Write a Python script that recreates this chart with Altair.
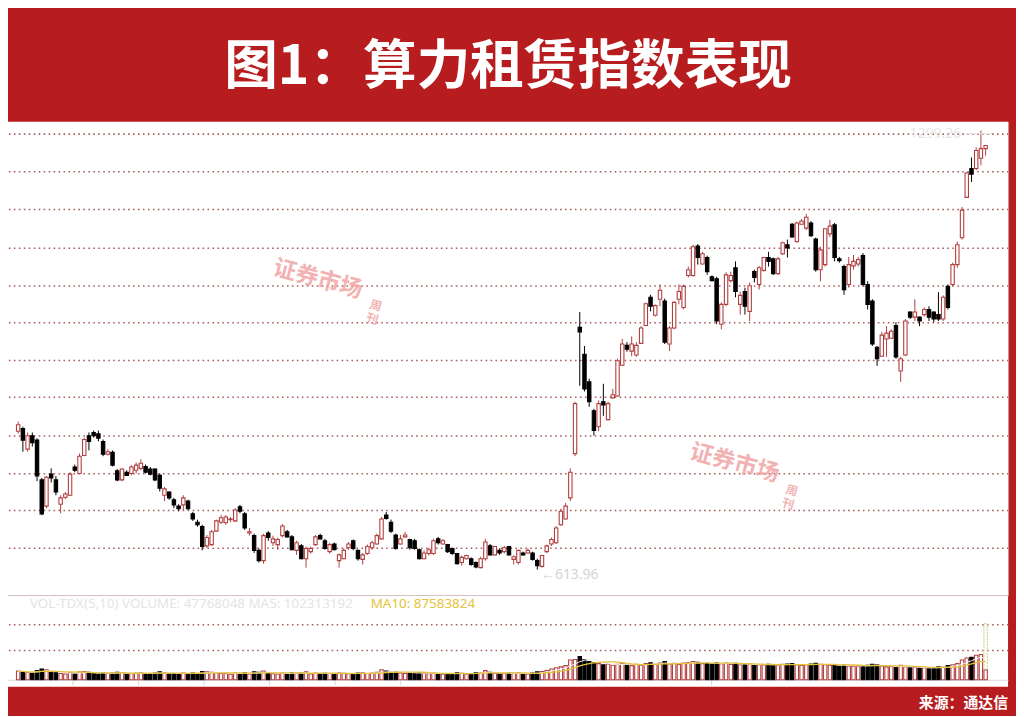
import altair as alt
import pandas as pd

# ---------------- data ----------------
opens = [
    830, 834, 802, 823, 816, 754, 713, 763, 754, 716,
    727, 730, 774, 764, 792, 823, 828, 826, 814, 794,
    797, 768, 754, 766, 764, 769, 772, 775, 771, 771,
    761, 730, 735, 723, 713, 715, 721, 701, 688, 681,
    651, 653, 674, 688, 687, 692, 690, 712, 701, 671,
    667, 644, 628, 671, 656, 653, 667, 673, 665, 644,
    651, 631, 642, 653, 667, 659, 642, 654, 628, 631,
    648, 659, 644, 630, 639, 648, 654, 662, 699, 688,
    668, 654, 665, 661, 659, 645, 631, 639, 639, 662,
    654, 653, 647, 639, 625, 631, 631, 625, 617, 631,
    651, 637, 644, 642, 650, 630, 625, 640, 640, 640,
    628, 619, 642, 654, 656, 684, 693, 726, 795, 992,
    950, 907, 862, 837, 876, 848, 882, 885, 933, 964,
    955, 949, 967, 995, 1039, 1011, 1036, 1033, 966, 991,
    1036, 1023, 1073, 1073, 1119, 1091, 1101, 1071, 1068, 997,
    1028, 1065, 1085, 1028, 1048, 1017, 1079, 1059, 1081, 1101,
    1099, 1076, 1107, 1121, 1153, 1126, 1153, 1147, 1155, 1130,
    1082, 1090, 1138, 1152, 1099, 1087, 1059, 1088, 1091, 1104,
    1059, 1033, 961, 947, 974, 975, 995, 924, 949, 1016,
    1008, 1008, 1012, 1020, 1016, 1012, 1005, 1056, 1059, 1090,
    1132, 1195, 1240, 1240, 1256, 1271,
]
highs = [
    845, 837, 828, 828, 819, 757, 760, 772, 760, 730,
    735, 766, 778, 795, 820, 828, 831, 831, 817, 802,
    800, 771, 772, 769, 777, 781, 786, 778, 774, 772,
    764, 743, 736, 726, 716, 730, 723, 704, 692, 684,
    668, 676, 692, 699, 699, 696, 710, 715, 704, 679,
    670, 647, 670, 674, 667, 664, 685, 676, 668, 659,
    654, 650, 650, 668, 670, 662, 656, 656, 639, 647,
    657, 661, 645, 640, 653, 659, 670, 696, 704, 692,
    670, 668, 673, 662, 662, 647, 644, 648, 662, 665,
    662, 654, 648, 640, 636, 637, 633, 627, 634, 662,
    654, 651, 647, 651, 651, 636, 645, 642, 647, 642,
    631, 637, 653, 664, 682, 709, 718, 772, 876, 1016,
    963, 912, 865, 878, 904, 876, 896, 943, 974, 969,
    978, 969, 994, 1031, 1043, 1028, 1059, 1037, 994, 1033,
    1059, 1059, 1087, 1121, 1122, 1110, 1104, 1073, 1071, 1031,
    1078, 1079, 1095, 1048, 1054, 1062, 1082, 1088, 1102, 1110,
    1101, 1102, 1126, 1129, 1155, 1157, 1161, 1169, 1158, 1132,
    1118, 1147, 1160, 1155, 1102, 1090, 1102, 1105, 1102, 1108,
    1064, 1036, 963, 985, 994, 989, 1000, 946, 1005, 1017,
    1036, 1009, 1023, 1025, 1017, 1047, 1042, 1059, 1093, 1126,
    1180, 1234, 1257, 1273, 1299.26, 1276,
]
lows = [
    826, 798, 798, 806, 752, 699, 710, 750, 730, 702,
    724, 729, 766, 763, 791, 800, 820, 814, 791, 792,
    775, 752, 752, 760, 761, 764, 769, 764, 761, 752,
    736, 721, 723, 710, 705, 707, 707, 690, 681, 644,
    648, 651, 673, 685, 684, 688, 688, 702, 676, 667,
    640, 625, 623, 659, 651, 645, 664, 664, 644, 637,
    630, 617, 639, 651, 661, 645, 639, 644, 617, 630,
    645, 644, 628, 622, 637, 645, 653, 661, 692, 671,
    645, 653, 664, 645, 645, 630, 630, 636, 637, 653,
    653, 640, 637, 622, 620, 630, 620, 616, 616, 628,
    636, 636, 637, 639, 636, 622, 622, 636, 639, 628,
    613.96, 617, 640, 651, 654, 682, 692, 721, 791, 901,
    892, 868, 823, 830, 854, 847, 881, 884, 932, 954,
    947, 946, 966, 994, 1017, 1009, 1025, 966, 955, 989,
    1028, 1020, 1070, 1071, 1090, 1090, 1074, 1064, 997, 989,
    1025, 1062, 1039, 1012, 1012, 1002, 1062, 1051, 1079, 1087,
    1074, 1074, 1105, 1101, 1132, 1124, 1152, 1144, 1133, 1079,
    1064, 1087, 1133, 1095, 1093, 1043, 1054, 1082, 1087, 1056,
    1020, 963, 932, 946, 946, 974, 943, 907, 947, 1005,
    1002, 994, 1009, 1002, 1000, 1002, 1002, 1020, 1056, 1085,
    1129, 1194, 1219, 1237, 1245, 1260,
]
closes = [
    840, 816, 823, 812, 760, 701, 758, 757, 735, 726,
    732, 763, 769, 791, 817, 814, 823, 819, 794, 798,
    777, 754, 771, 761, 774, 777, 780, 766, 763, 754,
    741, 740, 726, 715, 709, 726, 709, 693, 684, 650,
    664, 673, 690, 695, 696, 693, 707, 705, 679, 673,
    644, 628, 667, 664, 662, 661, 682, 665, 645, 656,
    631, 647, 647, 665, 662, 647, 653, 645, 637, 644,
    654, 647, 631, 637, 650, 656, 667, 693, 694, 674,
    647, 662, 668, 648, 647, 631, 640, 645, 659, 656,
    659, 642, 639, 623, 633, 636, 622, 618, 631, 657,
    637, 650, 640, 648, 637, 634, 644, 637, 644, 630,
    620, 636, 651, 661, 679, 705, 713, 766, 873, 985,
    896, 876, 831, 873, 871, 873, 887, 940, 966, 958,
    966, 964, 991, 1029, 1025, 1026, 1050, 969, 991, 1031,
    1048, 1056, 1082, 1118, 1101, 1107, 1079, 1065, 1002, 1028,
    1074, 1073, 1048, 1042, 1025, 1057, 1070, 1085, 1101, 1095,
    1076, 1099, 1124, 1116, 1133, 1155, 1158, 1164, 1135, 1082,
    1113, 1146, 1150, 1101, 1096, 1051, 1090, 1095, 1098, 1059,
    1028, 966, 943, 980, 983, 986, 946, 943, 1002, 1008,
    1016, 1002, 1020, 1008, 1005, 1005, 1039, 1023, 1090, 1121,
    1175, 1233, 1231, 1268, 1271, 1276,
]
# volume, millions of shares
volumes = [
    42, 38, 35, 33, 45, 52, 48, 36, 34, 30,
    28, 35, 30, 38, 40, 36, 30, 28, 34, 30,
    32, 36, 35, 28, 30, 32, 34, 30, 28, 33,
    38, 34, 30, 29, 28, 33, 30, 32, 28, 40,
    38, 36, 34, 30, 31, 27, 33, 30, 35, 28,
    38, 36, 42, 30, 29, 28, 33, 30, 34, 31,
    33, 38, 28, 32, 29, 31, 30, 28, 33, 31,
    29, 30, 32, 34, 30, 33, 36, 48, 42, 38,
    40, 33, 30, 34, 32, 35, 30, 29, 33, 28,
    27, 30, 29, 34, 31, 28, 30, 35, 32, 44,
    36, 32, 28, 30, 33, 31, 34, 27, 28, 32,
    38, 40, 45, 52, 58, 62, 68, 95, 98, 112,
    96, 88, 82, 78, 72, 76, 70, 74, 80, 72,
    68, 74, 70, 78, 82, 75, 80, 88, 76, 79,
    74, 80, 82, 88, 84, 78, 80, 76, 82, 78,
    80, 74, 79, 72, 76, 74, 70, 73, 71, 75,
    72, 70, 74, 76, 78, 72, 69, 73, 76, 79,
    74, 72, 70, 72, 66, 71, 67, 65, 64, 68,
    70, 74, 72, 66, 62, 64, 60, 70, 63, 58,
    60, 56, 58, 55, 57, 62, 60, 68, 72, 78,
    95, 105, 108, 118, 122, 47.768048,
]
est_last_volume = 270  # dotted estimate bar on the last day

grid_prices = [1294, 1235, 1176, 1117, 1058, 1000, 941, 883, 824, 765, 707, 648]
vol_grid = [143, 268]
vol_ticks = [12.46, 26.35, 40.25, 54.1, 68.0, 81.9, 147.8]

title_text = "图1：算力租赁指数表现"
source_text = "来源：通达信"
vol_header = "VOL-TDX(5,10)  VOLUME: 47768048  MA5: 102313192"
ma10_header = "MA10: 87583824"

n = len(closes)
idx = list(range(1, n + 1))
dirs = ["up" if c >= o else "down" for o, c in zip(opens, closes)]
df = pd.DataFrame({"i": idx, "open": opens, "high": highs, "low": lows,
                   "close": closes, "vol": volumes, "dir": dirs})

# ---------------- styling ----------------
RED_BG = "#B71C1F"
UP = "#B23F3F"
DOWN = "#000000"
GRID = "#A95F5D"
CJK = "Noto Sans CJK SC"

xs = alt.Scale(domain=[-0.1, 209.7], nice=False, zero=False)
ps = alt.Scale(domain=[573.75, 1313.1], nice=False, zero=False)
vs = alt.Scale(domain=[-33.5, 406.3], nice=False, zero=False)

ax_x_price = alt.Axis(orient="bottom", labels=False, ticks=False, grid=False,
                      domainColor="#A88484", domainWidth=2, title=None)
ax_y_price = alt.Axis(orient="right", values=grid_prices, labels=False, ticks=False,
                      grid=True, gridDash=[1.6, 3.4], gridColor=GRID, gridWidth=1.6,
                      domainColor="#D39A9A", domainWidth=1, title=None)
ax_x_vol = alt.Axis(orient="bottom", offset=-7, labels=False, ticks=True, tickSize=5,
                    tickColor="#D6D6D6", domainColor="#DADADA", grid=False,
                    values=vol_ticks, title=None)
ax_y_vol = alt.Axis(orient="right", values=vol_grid, labels=False, ticks=False,
                    grid=True, gridDash=[1.6, 3.4], gridColor=GRID, gridWidth=1.6,
                    domain=False, title=None)


def PX(f):
    return alt.X(f, type="quantitative", scale=xs, axis=ax_x_price)


def PY(f):
    return alt.Y(f, type="quantitative", scale=ps, axis=ax_y_price)


def VX(f):
    return alt.X(f, type="quantitative", scale=xs, axis=ax_x_vol)


def VY(f):
    return alt.Y(f, type="quantitative", scale=vs, axis=ax_y_vol)


fill_dir = alt.Fill("dir:N", scale=alt.Scale(domain=["up", "down"], range=["#FFFFFF", DOWN]), legend=None)
stroke_dir = alt.Stroke("dir:N", scale=alt.Scale(domain=["up", "down"], range=[UP, DOWN]), legend=None)

# ---------------- price panel ----------------
wicks = alt.Chart(df).mark_rule(strokeWidth=1).encode(
    x=PX("i"), y=PY("low"), y2="high", stroke=stroke_dir)
bodies = alt.Chart(df).mark_bar(size=3.4, strokeWidth=1.1).encode(
    x=PX("i"), y=PY("open"), y2="close", fill=fill_dir, stroke=stroke_dir)

wm = pd.DataFrame({"i": [64.5, 152.8], "p": [1067, 780], "t": ["证券市场", "证券市场"]})
wm2 = pd.DataFrame({"i": [76.8, 164.9], "p": [1026, 737], "t": ["周\n刊", "周\n刊"]})
watermark = alt.Chart(wm).mark_text(angle=15, fontSize=23, font=CJK, fontWeight="bold",
                                     color="#F0A0A0", opacity=0.8).encode(
    x=PX("i"), y=PY("p"), text="t:N")
watermark2 = alt.Chart(wm2).mark_text(angle=15, fontSize=12, font=CJK, fontWeight="bold",
                                       lineBreak="\n", color="#F0A0A0", opacity=0.8).encode(
    x=PX("i"), y=PY("p"), text="t:N")

ann_low = pd.DataFrame({"i": [111.8], "p": [606], "t": ["←613.96"]})
ann_high = pd.DataFrame({"i": [189.9], "p": [1294], "t": ["1299.26 ——"]})
low_text = alt.Chart(ann_low).mark_text(align="left", baseline="middle", fontSize=14,
                                         font="Noto Sans", color="#D4D4D4").encode(
    x=PX("i"), y=PY("p"), text="t:N")
high_text = alt.Chart(ann_high).mark_text(align="left", baseline="middle", fontSize=14,
                                           font="Noto Sans", color="#E6E6E6").encode(
    x=PX("i"), y=PY("p"), text="t:N")

price = alt.layer(wicks, bodies, watermark, watermark2, low_text, high_text).properties(
    width=1007, height=477)

# ---------------- volume panel ----------------
vbars = alt.Chart(df).mark_bar(size=3.4, strokeWidth=1.1).encode(
    x=VX("i"), y=VY("vol"), y2=alt.datum(0), fill=fill_dir, stroke=stroke_dir)
est = pd.DataFrame({"i": [n], "lo": [volumes[-1]], "hi": [est_last_volume]})
est_bar = alt.Chart(est).mark_bar(size=3.4, strokeWidth=1, fillOpacity=0,
                                  stroke="#CACA80", strokeDash=[2, 1]).encode(
    x=VX("i"), y=VY("hi"), y2="lo")
ma5 = alt.Chart(df).transform_window(
    ma5="mean(vol)", frame=[-4, 0], sort=[alt.SortField("i")]
).mark_line(color="#F2F2F2", strokeWidth=1).encode(x=VX("i"), y=VY("ma5"))
ma10 = alt.Chart(df).transform_window(
    ma10="mean(vol)", frame=[-9, 0], sort=[alt.SortField("i")]
).mark_line(color="#E4C23C", strokeWidth=1.3).encode(x=VX("i"), y=VY("ma10"))

hdr1 = pd.DataFrame({"i": [3.5], "t": [vol_header]})
hdr2 = pd.DataFrame({"i": [75.7], "t": [ma10_header]})
head1 = alt.Chart(hdr1).mark_text(align="left", baseline="middle", fontSize=13.5,
                                  font="Noto Sans", color="#E4E4E4").encode(
    x=VX("i"), y=alt.value(9), text="t:N")
head2 = alt.Chart(hdr2).mark_text(align="left", baseline="middle", fontSize=13.5,
                                  font="Noto Sans", color="#E6C33A").encode(
    x=VX("i"), y=alt.value(9), text="t:N")

volume = alt.layer(vbars, est_bar, ma5, ma10, head1, head2).properties(
    width=1007, height=92,
    title=alt.TitleParams(source_text, orient="bottom", anchor="end", color="white",
                          fontSize=15, font=CJK, fontWeight="bold", offset=9))

chart = alt.vconcat(price, volume, spacing=0).properties(
    background=RED_BG,
    padding={"left": 0, "top": 31, "right": 8, "bottom": 3},
    title=alt.TitleParams(title_text, anchor="middle", color="white", fontSize=54,
                          font=CJK, fontWeight="bold", offset=27),
).configure_view(fill="white", stroke="transparent", strokeWidth=0)

chart.save("out.html", embed_options={"renderer": "svg", "actions": False})
